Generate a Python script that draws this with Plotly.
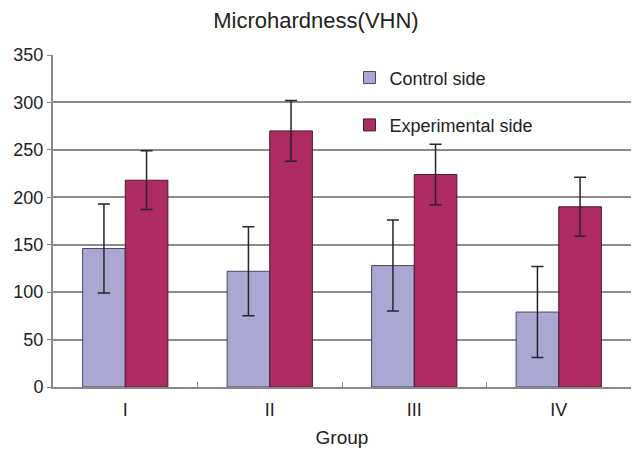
import plotly.graph_objects as go

groups = ["I", "II", "III", "IV"]
control = [146, 122, 128, 79]
control_err = [47, 47, 48, 48]
experimental = [218, 270, 224, 190]
experimental_err = [31, 32, 32, 31]

font_family = "Liberation Sans, Arial, sans-serif"

fig = go.Figure()
fig.add_trace(go.Bar(
    x=groups, y=control, name="Control side", legendgroup="c",
    marker=dict(color="#aba7d3", line=dict(color="#4a4560", width=1)),
    error_y=dict(type="data", array=control_err, color="#2a2232", thickness=1.5, width=6),
))
fig.add_trace(go.Bar(
    x=groups, y=experimental, name="Experimental side", legendgroup="e",
    marker=dict(color="#ae2a62", line=dict(color="#4a1a30", width=1)),
    error_y=dict(type="data", array=experimental_err, color="#2a2232", thickness=1.5, width=6),
))

fig.update_layout(
    width=632, height=459,
    margin=dict(l=53, r=1, t=55, b=72),
    paper_bgcolor="white", plot_bgcolor="white",
    barmode="group", bargap=0.41, bargroupgap=0,
    title=dict(text="Microhardness(VHN)", x=0.5, xanchor="center", y=0.955, yanchor="middle",
               font=dict(family=font_family, size=22, color="#222")),
    font=dict(family=font_family, color="#222"),
    legend=dict(x=0.513, y=0.987, xanchor="left", yanchor="top",
                bgcolor="rgba(0,0,0,0)", font=dict(size=18, color="#222"),
                traceorder="grouped", tracegroupgap=21, itemwidth=30),
    xaxis=dict(title=dict(text="Group", font=dict(size=19), standoff=12),
               tickfont=dict(size=18), ticklabelstandoff=5,
               showline=True, linecolor="#888", linewidth=2,
               ticks="inside", tickson="boundaries", ticklen=5, tickcolor="#888", tickwidth=1,
               showgrid=False),
    yaxis=dict(range=[0, 350], dtick=50, tickfont=dict(size=18),
               showline=True, linecolor="#888", linewidth=2,
               showgrid=True, gridcolor="#8c8c8c", gridwidth=2,
               ticks="outside", ticklen=4, tickcolor="#888", zeroline=False),
)

fig.write_html("out.html", config={"displayModeBar": False},
               post_script="document.body.style.margin='0';")
